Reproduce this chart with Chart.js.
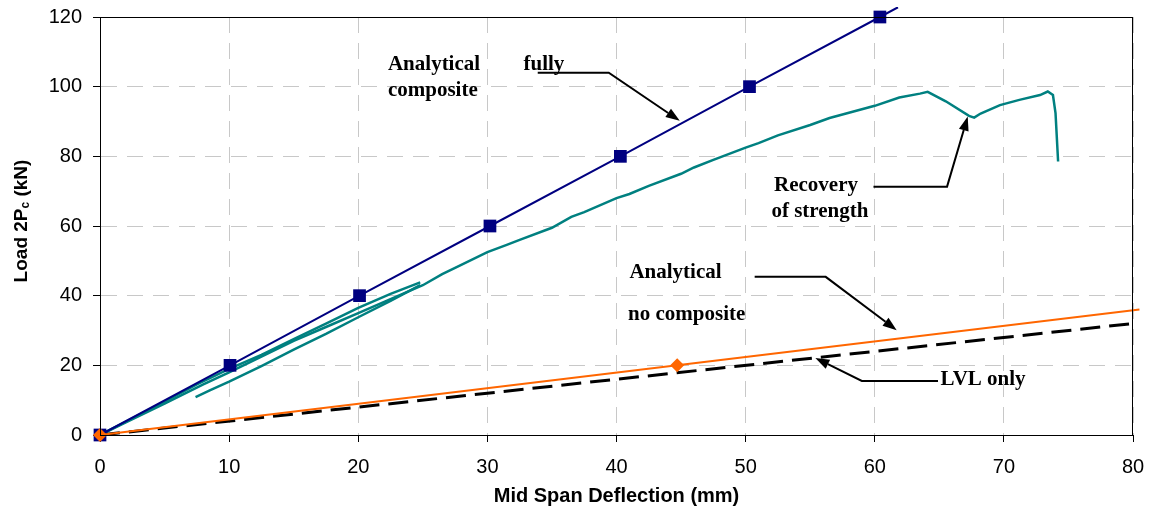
<!DOCTYPE html>
<html>
<head>
<meta charset="utf-8">
<script src="https://cdn.jsdelivr.net/npm/chart.js@4/dist/chart.umd.min.js"></script>
<style>
  body { margin: 0; background: #fff; }
  #wrap { width: 1153px; height: 509px; position: relative; }
</style>
</head>
<body>
<div id="wrap"><canvas id="chart"></canvas></div>
<script>
// axis ticks
const xTicks = [0, 10, 20, 30, 40, 50, 60, 70, 80];
const yTicks = [0, 20, 40, 60, 80, 100, 120];

// analytical, fully composite
const fullX = [0, 10.07, 20.1, 30.2, 40.3, 50.3, 60.4, 61.8];
const fullY = [0, 20, 40, 60, 80, 100, 120, 122.8];

// analytical, no composite
const noCompX = [0, 44.7, 80.5];
const noCompY = [0, 20, 36];

// LVL only
const lvlX = [0, 80];
const lvlY = [0, 32];

// test curves
const testAX = [0, 2.5, 5, 7.5, 10, 12.5, 15, 17.5, 20, 22.5, 24.8];
const testAY = [0, 4.8, 9.6, 14.5, 19, 23, 27.5, 32, 36.5, 40.5, 43.8];

const testBX = [7.4, 8.5, 10, 12.5, 15, 17.5, 20, 22.5, 24.8];
const testBY = [10.9, 12.8, 15.3, 19.8, 24.5, 29, 33.8, 38.5, 43];

const testCX = [0, 2, 5, 8, 10, 12.5, 15, 17.5, 20, 22.5, 25, 26.5, 27.5, 30, 31.5, 32.5, 35,
                36.5, 37.5, 40, 41, 42.5, 45, 46, 47.5, 50, 51, 52.5, 55, 56.5, 57.5, 60,
                61.9, 63.5, 64.1, 65.5, 67.3, 67.7, 68.2, 69.7, 71.2, 72.8, 73.4, 73.8,
                74.0, 74.2];
const testCY = [0, 3.6, 9, 14.5, 18, 22.5, 27, 31, 35, 39, 43, 46.2, 48, 52.5, 54.6, 56,
                59.5, 62.6, 64, 68, 69.2, 71.5, 75, 76.8, 79, 82.5, 83.8, 86, 89, 91.0,
                92, 94.5, 96.9, 98, 98.5, 95.8, 91.6, 91.1, 92.3, 94.7, 96.2, 97.6, 98.6,
                97.6, 92.4, 78.5];

// text notes and arrows (data units)
const notes = [
    { text: "Analytical", x: 22.3, y: 106.2 },
    { text: "fully", x: 32.8, y: 106.2 },
    { text: "composite", x: 22.3, y: 99.0 },
    { text: "Recovery", x: 52.2, y: 71.5 },
    { text: "of strength", x: 52.0, y: 64.0 },
    { text: "Analytical", x: 41.0, y: 46.5 },
    { text: "no composite", x: 40.9, y: 34.7 },
    { text: "LVL only", x: 65.1, y: 15.8 }
];
const arrows = [
    [[33.9, 104.0], [39.4, 104.0], [44.9, 90.2]],
    [[59.9, 71.3], [65.6, 71.3], [67.2, 91.4]],
    [[50.7, 45.4], [56.2, 45.4], [61.7, 30.1]],
    [[64.9, 15.5], [59.0, 15.5], [55.4, 22.1]]
];

function pts(xs, ys)
{
    return xs.map((v, i) => ({ x: v, y: ys[i] }));
}

// frame, y title with subscript, notes and arrows
const overlay = {
    id: "overlay",
    afterDraw(chart)
    {
        const { ctx, chartArea: a, scales: { x, y } } = chart;
        ctx.save();

        // box round the plot
        ctx.strokeStyle = "#000";
        ctx.lineWidth = 1;
        ctx.strokeRect(a.left + 0.5, a.top + 0.5, a.right - a.left - 1, a.bottom - a.top);

        // y axis title
        ctx.save();
        ctx.translate(22, (a.top + a.bottom) / 2 - 5);
        ctx.rotate(-Math.PI / 2);
        ctx.fillStyle = "#000";
        ctx.textBaseline = "middle";
        const big = "bold 19px 'Liberation Sans', Arial, sans-serif";
        const small = "bold 12px 'Liberation Sans', Arial, sans-serif";
        ctx.font = big;
        const w1 = ctx.measureText("Load 2P").width;
        const w3 = ctx.measureText(" (kN)").width;
        ctx.font = small;
        const w2 = ctx.measureText("c").width;
        let cx = -(w1 + w2 + w3) / 2;
        ctx.textAlign = "left";
        ctx.font = big;
        ctx.fillText("Load 2P", cx, 0);
        ctx.font = small;
        ctx.fillText("c", cx + w1, 4);
        ctx.font = big;
        ctx.fillText(" (kN)", cx + w1 + w2, 0);
        ctx.restore();

        // notes
        ctx.fillStyle = "#000";
        ctx.font = "bold 21px 'Liberation Serif', 'Times New Roman', serif";
        ctx.textAlign = "left";
        ctx.textBaseline = "middle";
        notes.forEach(n => ctx.fillText(n.text, x.getPixelForValue(n.x), y.getPixelForValue(n.y)));

        // arrows
        ctx.lineWidth = 2;
        ctx.strokeStyle = "#000";
        arrows.forEach(path =>
        {
            const p = path.map(q => [x.getPixelForValue(q[0]), y.getPixelForValue(q[1])]);
            const tip = p[p.length - 1], prev = p[p.length - 2];
            const ang = Math.atan2(tip[1] - prev[1], tip[0] - prev[0]);
            const len = 14, half = 5;
            const bx = tip[0] - len * Math.cos(ang), by = tip[1] - len * Math.sin(ang);
            ctx.beginPath();
            ctx.moveTo(p[0][0], p[0][1]);
            for (let i = 1; i < p.length - 1; i++) ctx.lineTo(p[i][0], p[i][1]);
            ctx.lineTo(bx, by);
            ctx.stroke();
            ctx.beginPath();
            ctx.moveTo(tip[0], tip[1]);
            ctx.lineTo(bx + half * Math.sin(ang), by - half * Math.cos(ang));
            ctx.lineTo(bx - half * Math.sin(ang), by + half * Math.cos(ang));
            ctx.closePath();
            ctx.fill();
        });

        ctx.restore();
    }
};

const tickFont = { family: "'Liberation Sans', Arial, sans-serif", size: 20 };

new Chart(document.getElementById("chart"),
{
    type: "scatter",
    data:
    {
        datasets:
        [
            {
                data: pts(noCompX, noCompY),
                showLine: true,
                borderColor: "#ff6600",
                borderWidth: 2,
                pointStyle: "rectRot",
                pointRadius: [7, 7, 0],
                pointBackgroundColor: "#ff6600",
                pointBorderWidth: 0,
                clip: { left: 10, top: 0, right: 10, bottom: 10 }
            },
            {
                data: pts(fullX, fullY),
                showLine: true,
                borderColor: "#000080",
                borderWidth: 2,
                pointStyle: "rect",
                pointRadius: [9, 9, 9, 9, 9, 9, 9, 0],
                pointBackgroundColor: "#000080",
                pointBorderWidth: 0,
                clip: { left: 10, top: 10, right: 0, bottom: 10 }
            },
            {
                data: pts(lvlX, lvlY),
                showLine: true,
                borderColor: "#000",
                borderWidth: 3,
                borderDash: [20, 9],
                pointRadius: 0
            },
            {
                data: pts(testAX, testAY),
                showLine: true,
                borderColor: "#008080",
                borderWidth: 2.5,
                pointRadius: 0
            },
            {
                data: pts(testBX, testBY),
                showLine: true,
                borderColor: "#008080",
                borderWidth: 2.5,
                pointRadius: 0
            },
            {
                data: pts(testCX, testCY),
                showLine: true,
                borderColor: "#008080",
                borderWidth: 2.5,
                pointRadius: 0
            }
        ]
    },
    options:
    {
        responsive: true,
        maintainAspectRatio: false,
        animation: false,
        layout: { padding: { top: 17, right: 20, left: 0, bottom: 0 } },
        plugins:
        {
            legend: { display: false },
            tooltip: { enabled: false }
        },
        scales:
        {
            x:
            {
                type: "linear",
                min: 0,
                max: 80,
                afterBuildTicks: s => { s.ticks = xTicks.map(v => ({ value: v })); },
                afterFit: s => { s.height = 74; s.paddingLeft = 0; s.paddingRight = 0; },
                ticks: { color: "#000", font: tickFont, padding: 13, maxRotation: 0 },
                grid: { color: "#c8c8c8", tickColor: "#000", tickLength: 7, tickBorderDash: [] },
                border: { color: "#000", width: 1, dash: [16, 10] },
                title:
                {
                    display: true,
                    text: "Mid Span Deflection (mm)",
                    color: "#000",
                    font: { family: "'Liberation Sans', Arial, sans-serif", size: 20, weight: "bold" },
                    padding: { top: 0, bottom: 1 }
                }
            },
            y:
            {
                type: "linear",
                min: 0,
                max: 120,
                afterBuildTicks: s => { s.ticks = yTicks.map(v => ({ value: v })); },
                afterFit: s => { s.width = 100; s.paddingTop = 0; s.paddingBottom = 0; },
                ticks: { color: "#000", font: tickFont, padding: 11 },
                grid: { color: "#c8c8c8", tickColor: "#000", tickLength: 7, tickBorderDash: [] },
                border: { color: "#000", width: 1, dash: [16, 10] }
            }
        }
    },
    plugins: [overlay]
});
</script>
</body>
</html>
